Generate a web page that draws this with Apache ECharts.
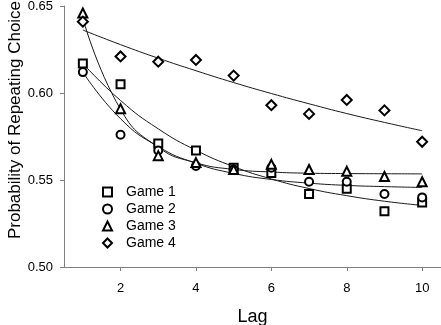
<!DOCTYPE html>
<html>
<head>
<meta charset="utf-8">
<script src="https://cdn.jsdelivr.net/npm/echarts@6/dist/echarts.min.js"></script>
<style>
html,body{margin:0;padding:0;background:#fff;}
#chart{width:441px;height:325px;}
</style>
</head>
<body>
<div id="chart"></div>
<script>
// ---- data ----
var lags = [1, 2, 3, 4, 5, 6, 7, 8, 9, 10];
var xTicks = [2, 4, 6, 8, 10];
var seriesNames = ['Game 1', 'Game 2', 'Game 3', 'Game 4'];

var game1 = [0.617, 0.605, 0.571, 0.567, 0.557, 0.554, 0.542, 0.545, 0.532, 0.537];
var game2 = [0.612, 0.576, 0.567, 0.558, 0.556, 0.557, 0.549, 0.549, 0.542, 0.540];
var game3 = [0.646, 0.591, 0.564, 0.560, 0.556, 0.559, 0.556, 0.555, 0.552, 0.549];
var game4 = [0.641, 0.621, 0.618, 0.619, 0.610, 0.593, 0.588, 0.596, 0.590, 0.572];

// fitted curves, read at each lag
var fit1 = [0.6170, 0.5957, 0.5794, 0.5671, 0.5577, 0.5506, 0.5451, 0.5410, 0.5378, 0.5354];
var fit2 = [0.6120, 0.5852, 0.5692, 0.5596, 0.5538, 0.5503, 0.5482, 0.5469, 0.5462, 0.5457];
var fit3 = [0.6430, 0.5906, 0.5688, 0.5599, 0.5561, 0.5546, 0.5539, 0.5537, 0.5536, 0.5535];
var fit4 = [0.6362, 0.6278, 0.6200, 0.6128, 0.6060, 0.5997, 0.5938, 0.5882, 0.5831, 0.5783];

var symbols = ['rect', 'circle', 'triangle', 'diamond'];
var symbolSizes = [8, 8, 9, 10];
var pointSets = [game1, game2, game3, game4];
var fitSets = [fit1, fit2, fit3, fit4];

function pairs(vals) {
  return lags.map(function (x, i) { return [x, vals[i]]; });
}

var series = [];
fitSets.forEach(function (f, i) {
  series.push({
    name: 'fit' + (i + 1),
    type: 'line',
    data: pairs(f),
    smooth: 0.5,
    showSymbol: false,
    silent: true,
    z: 1,
    lineStyle: { color: '#1a1a1a', width: 1 }
  });
});
pointSets.forEach(function (p, i) {
  series.push({
    name: seriesNames[i],
    type: 'scatter',
    data: pairs(p),
    symbol: symbols[i],
    symbolSize: symbolSizes[i],
    symbolKeepAspect: true,
    z: 3,
    itemStyle: { color: '#ffffff', borderColor: '#000000', borderWidth: 2, opacity: 1 }
  });
});

var chart = echarts.init(document.getElementById('chart'), null, { renderer: 'canvas' });
chart.setOption({
  animation: false,
  backgroundColor: '#ffffff',
  textStyle: { fontFamily: 'Liberation Sans, Arial, sans-serif' },
  grid: { left: 64, right: 0, top: 6, bottom: 58, containLabel: false, outerBoundsMode: 'none' },
  xAxis: {
    type: 'value',
    min: 0.5,
    max: 10.5,
    name: 'Lag',
    nameLocation: 'middle',
    nameGap: 41,
    nameTextStyle: { fontSize: 18, color: '#000', fontFamily: 'Liberation Sans' },
    axisLine: { lineStyle: { color: '#808080', width: 1 } },
    axisTick: { show: true, length: 4, customValues: xTicks, lineStyle: { color: '#808080' } },
    axisLabel: { customValues: xTicks, fontSize: 13, color: '#000', margin: 15, fontFamily: 'Liberation Sans' },
    splitLine: { show: false }
  },
  yAxis: {
    type: 'value',
    min: 0.5,
    max: 0.65,
    interval: 0.05,
    axisLine: { show: true, lineStyle: { color: '#808080', width: 1 } },
    axisTick: { show: true, length: 4, lineStyle: { color: '#808080' } },
    axisLabel: {
      fontSize: 13, color: '#000', margin: 11, fontFamily: 'Liberation Sans',
      formatter: function (v) { return v.toFixed(2); }
    },
    splitLine: { show: false }
  },
  legend: {
    data: seriesNames,
    orient: 'vertical',
    left: 97,
    top: 180,
    itemWidth: 9,
    itemHeight: 9,
    itemGap: 3,
    textStyle: { fontSize: 14, color: '#000', fontFamily: 'Liberation Sans', padding: [0, 0, 0, 9] }
  },
  graphic: [{
    type: 'text',
    x: 15,
    y: 120,
    rotation: Math.PI / 2,
    style: {
      text: 'Probability of Repeating Choice',
      fontSize: 17,
      fontFamily: 'Liberation Sans',
      fill: '#000',
      align: 'center',
      verticalAlign: 'middle'
    }
  }],
  series: series
});
</script>
</body>
</html>
